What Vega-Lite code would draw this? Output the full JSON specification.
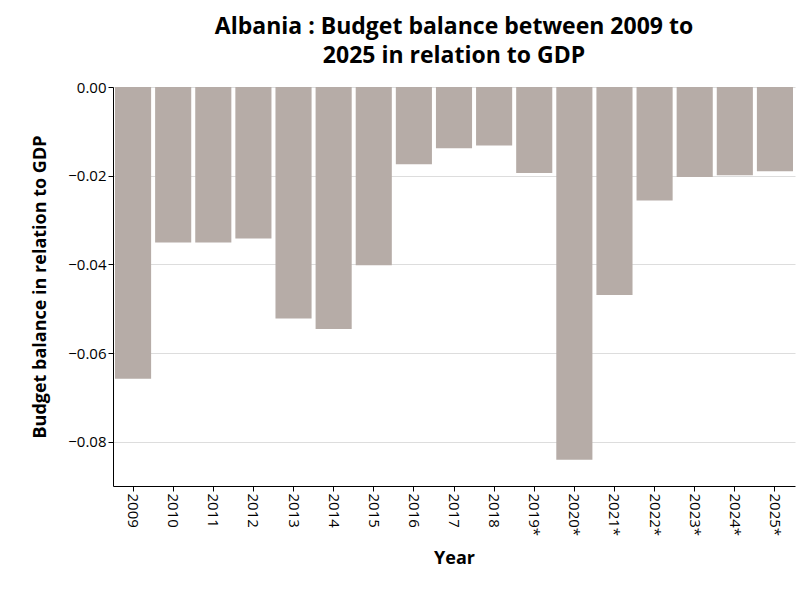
{
  "$schema": "https://vega.github.io/schema/vega-lite/v6.json",
  "width": 682,
  "height": 399,
  "autosize": {"type": "none"},
  "padding": {"left": 113, "top": 87, "right": 7, "bottom": 112},
  "title": {
    "text": ["Albania : Budget balance between 2009 to", "2025 in relation to GDP"],
    "fontSize": 23,
    "lineHeight": 29,
    "fontWeight": "bold",
    "font": "Open Sans",
    "color": "#000000",
    "offset": 12
  },
  "data": {
    "values": [
      {"year": "2009", "balance": -0.0658},
      {"year": "2010", "balance": -0.0351},
      {"year": "2011", "balance": -0.0351},
      {"year": "2012", "balance": -0.0342},
      {"year": "2013", "balance": -0.0522},
      {"year": "2014", "balance": -0.0546},
      {"year": "2015", "balance": -0.0402},
      {"year": "2016", "balance": -0.0174},
      {"year": "2017", "balance": -0.0138},
      {"year": "2018", "balance": -0.0132},
      {"year": "2019*", "balance": -0.0194},
      {"year": "2020*", "balance": -0.0841},
      {"year": "2021*", "balance": -0.0469},
      {"year": "2022*", "balance": -0.0256},
      {"year": "2023*", "balance": -0.0203},
      {"year": "2024*", "balance": -0.0199},
      {"year": "2025*", "balance": -0.0190}
    ]
  },
  "mark": {"type": "bar", "color": "#b6aca7"},
  "encoding": {
    "x": {
      "field": "year",
      "type": "ordinal",
      "title": "Year",
      "scale": {"paddingInner": 0.1, "paddingOuter": 0.05},
      "axis": {"labelAngle": 90, "labelAlign": "left", "labelBaseline": "middle", "labelFontSize": 15, "titleFontSize": 18, "titlePadding": 14}
    },
    "y": {
      "field": "balance",
      "type": "quantitative",
      "title": "Budget balance in relation to GDP",
      "scale": {"domain": [-0.09, 0], "nice": false},
      "axis": {"values": [0, -0.02, -0.04, -0.06, -0.08], "format": ".2f", "labelFontSize": 15, "titleFontSize": 18, "titlePadding": 18}
    }
  },
  "config": {
    "font": "Open Sans",
    "view": {"stroke": null},
    "axis": {
      "labelColor": "#000000",
      "titleColor": "#000000",
      "titleFont": "Open Sans",
      "titleFontWeight": "bold",
      "labelFont": "Open Sans",
      "domainColor": "#000000",
      "tickColor": "#000000",
      "gridColor": "#dddddd"
    },
    "axisX": {"grid": false},
    "axisY": {"domain": true}
  }
}
